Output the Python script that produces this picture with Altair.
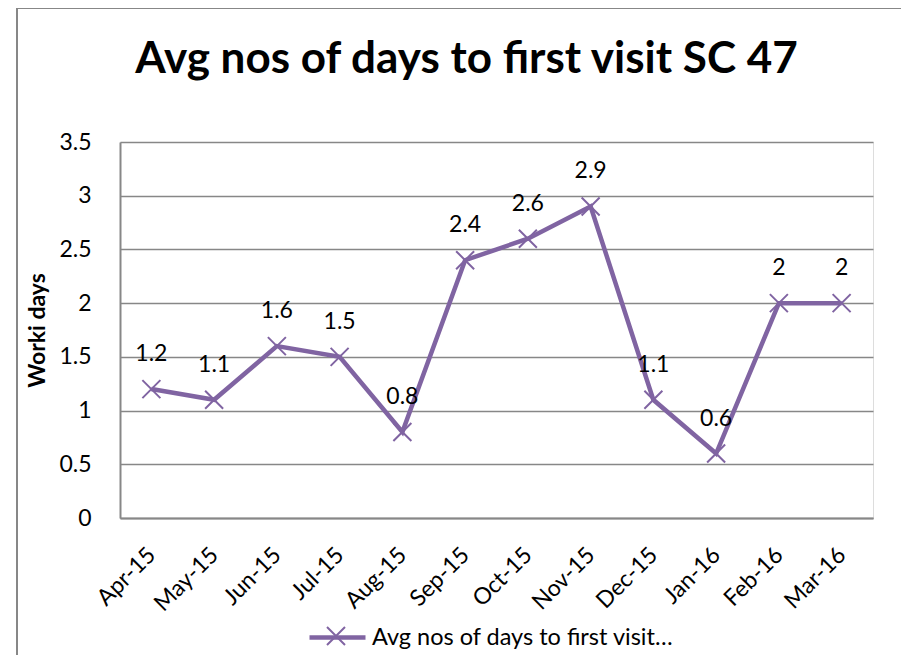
import altair as alt
import pandas as pd

months = ["Apr-15", "May-15", "Jun-15", "Jul-15", "Aug-15", "Sep-15",
          "Oct-15", "Nov-15", "Dec-15", "Jan-16", "Feb-16", "Mar-16"]
values = [1.2, 1.1, 1.6, 1.5, 0.8, 2.4, 2.6, 2.9, 1.1, 0.6, 2, 2]
series_name = "Avg nos of days to first visit\u2026"
title_text = "Avg nos of days to first visit SC 47"
y_title = "Worki days"
y_ticks = [0, 0.5, 1, 1.5, 2, 2.5, 3, 3.5]

PURPLE = "#8064A2"
GRID = "#878787"
FONT = "Lato"
XPATH = "M-1,-1L1,1M1,-1L-1,1"

df = pd.DataFrame({"month": months, "value": values,
                   "series": [series_name] * len(months),
                   "s2": [series_name] * len(months)})

x_enc = alt.X("month:N", sort=months, title=None,
              axis=alt.Axis(labelAngle=-45, ticks=False, labelPadding=33,
                            labelBaseline="middle",
                            labelFontSize=23, labelFont=FONT, labelColor="black",
                            domainColor=GRID, domainWidth=2, grid=False))
y_enc = alt.Y("value:Q", scale=alt.Scale(domain=[0, 3.5], nice=False),
              axis=alt.Axis(values=y_ticks, format="~g", ticks=False, labelPadding=29,
                            labelFontSize=23, labelFont=FONT, labelColor="black",
                            domainColor=GRID, domainWidth=2,
                            gridColor=GRID, gridWidth=1.5,
                            title=y_title, titleFont=FONT, titleFontSize=23,
                            titleFontWeight="bold", titleColor="black", titlePadding=9))

base = alt.Chart(df)

line = base.mark_line(strokeWidth=4.5).encode(
    x=x_enc, y=y_enc,
    color=alt.Color("series:N", scale=alt.Scale(range=[PURPLE]),
                    legend=alt.Legend(orient="none", legendX=187, legendY=465, title=None,
                                      padding=0, symbolType="M-1,0L1,0", symbolSize=3136,
                                      symbolStrokeWidth=4.5, symbolStrokeColor=PURPLE,
                                      labelFont=FONT, labelFontSize=23.5, labelColor="black",
                                      labelOffset=4, labelLimit=500)),
)

points = base.mark_point(filled=False, strokeWidth=2, size=324, color=PURPLE, opacity=1).encode(
    x=x_enc, y=y_enc,
    shape=alt.Shape("s2:N", scale=alt.Scale(range=[XPATH]),
                    legend=alt.Legend(orient="none", legendX=206, legendY=484, title=None,
                                      padding=0, symbolSize=324, symbolStrokeWidth=2,
                                      symbolStrokeColor=PURPLE, symbolFillColor="transparent",
                                      labelExpr="''", labelFontSize=10)),
)

labels = base.mark_text(dy=-28, baseline="alphabetic", fontSize=23, font=FONT, color="black").encode(
    x=x_enc, y=y_enc, text=alt.Text("value:Q", format="~g"),
)

frame_df = pd.DataFrame({"k": [0]})
frame_top = alt.Chart(frame_df).mark_rule(color=GRID, strokeWidth=2).encode(
    x=alt.value(-103), x2=alt.value(800), y=alt.value(-134))
frame_left = alt.Chart(frame_df).mark_rule(color=GRID, strokeWidth=2).encode(
    x=alt.value(-103), y=alt.value(-134), y2=alt.value(530))

chart = alt.layer(frame_top, frame_left, line, points, labels).properties(
    width=753, height=376,
    autosize=alt.AutoSizeParams(type="none"),
    padding={"left": 112, "top": 134, "right": 28, "bottom": 137},
    title=alt.TitleParams(title_text, font=FONT, fontSize=44, fontWeight="bold",
                          color="black", anchor="middle", dx=-30,
                          baseline="alphabetic", offset=-110),
).configure_view(stroke=None).configure(background="white")

chart.save("out.html", embed_options={"renderer": "svg", "actions": False})
